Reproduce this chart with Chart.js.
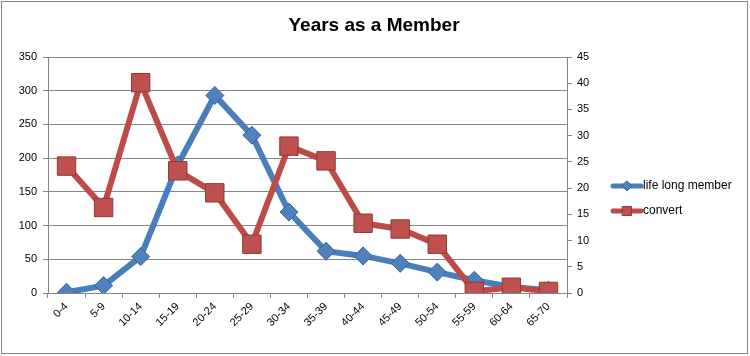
<!DOCTYPE html>
<html>
<head>
<meta charset="utf-8">
<script src="https://cdn.jsdelivr.net/npm/chart.js@4.4.1/dist/chart.umd.min.js"></script>
<style>
html,body{margin:0;padding:0;background:#fff;}
#wrap{position:relative;width:750px;height:356px;}
</style>
</head>
<body>
<div id="wrap"><canvas id="c" width="750" height="356"></canvas></div>
<script>
const categories = ["0-4","5-9","10-14","15-19","20-24","25-29","30-34","35-39","40-44","45-49","50-54","55-59","60-64","65-70"];
const lifeLong = [1, 11, 54, 190, 293, 234, 120, 62, 55, 44, 31, 19, 9, 4];
const convert = [24.2, 16.3, 40.1, 23.3, 19.1, 9.3, 28.0, 25.2, 13.3, 12.2, 9.3, 0.3, 1.1, 0.3];
const leftTicks = [0, 350, 50];
const rightTicks = [0, 45, 5];
const titleText = "Years as a Member";
const seriesNames = ["life long member", "convert"];

const BLUE = '#4A7EBB', BLUE_PT = '#4F81BD', BLUE_BD = '#3A6496';
const RED = '#BE4B48', RED_PT = '#C0504D', RED_BD = '#8C3836';
const GRID = '#868686';
const FONT = "'Liberation Sans', Arial, sans-serif";

const deco = {
  id: 'deco',
  beforeDraw(chart) {
    const ctx = chart.ctx;
    ctx.save();
    ctx.fillStyle = '#fff';
    ctx.fillRect(0, 0, chart.width, chart.height);
    ctx.restore();
  },
  afterDraw(chart) {
    const ctx = chart.ctx;
    ctx.save();
    ctx.strokeStyle = GRID;
    ctx.lineWidth = 1;
    ctx.strokeRect(1.5, 1.5, 746, 352);
    ctx.fillStyle = '#000';
    ctx.font = "bold 19px " + FONT;
    ctx.textAlign = 'center';
    ctx.textBaseline = 'alphabetic';
    ctx.fillText(titleText, 374, 31);
    const items = [
      {name: seriesNames[0], y: 186, line: BLUE, fill: BLUE_PT, bd: BLUE_BD, shape: 'diamond'},
      {name: seriesNames[1], y: 211, line: RED, fill: RED_PT, bd: RED_BD, shape: 'square'}
    ];
    items.forEach(it => {
      ctx.strokeStyle = it.line;
      ctx.lineWidth = 5;
      ctx.lineCap = 'round';
      ctx.beginPath();
      ctx.moveTo(613, it.y);
      ctx.lineTo(641, it.y);
      ctx.stroke();
      ctx.fillStyle = it.fill;
      ctx.strokeStyle = it.bd;
      ctx.lineWidth = 1;
      ctx.beginPath();
      if (it.shape === 'diamond') {
        ctx.moveTo(627, it.y - 5); ctx.lineTo(632, it.y); ctx.lineTo(627, it.y + 5); ctx.lineTo(622, it.y); ctx.closePath();
      } else {
        ctx.rect(622.5, it.y - 4.5, 9, 9);
      }
      ctx.fill(); ctx.stroke();
      ctx.fillStyle = '#000';
      ctx.font = "12px " + FONT;
      ctx.textAlign = 'left';
      ctx.textBaseline = 'middle';
      ctx.fillText(it.name, 643, it.y);
    });
    ctx.restore();
  }
};

new Chart(document.getElementById('c'), {
  type: 'line',
  data: {
    labels: categories,
    datasets: [
      {
        label: seriesNames[0],
        data: lifeLong,
        yAxisID: 'y',
        borderColor: BLUE,
        borderWidth: 6,
        backgroundColor: BLUE_PT,
        pointBackgroundColor: BLUE_PT,
        pointBorderColor: BLUE_BD,
        pointBorderWidth: 1,
        pointStyle: 'rectRot',
        pointRadius: 9,
        tension: 0,
        order: 1
      },
      {
        label: seriesNames[1],
        data: convert,
        yAxisID: 'y1',
        borderColor: RED,
        borderWidth: 6,
        backgroundColor: RED_PT,
        pointBackgroundColor: RED_PT,
        pointBorderColor: RED_BD,
        pointBorderWidth: 1,
        pointStyle: 'rect',
        pointRadius: 13,
        tension: 0,
        order: 0
      }
    ]
  },
  options: {
    responsive: false,
    animation: false,
    devicePixelRatio: 1,
    layout: { padding: { top: 57, left: 0, right: 153, bottom: 0 } },
    plugins: {
      legend: { display: false },
      title: { display: false },
      tooltip: { enabled: false }
    },
    scales: {
      x: {
        type: 'category',
        offset: true,
        grid: { display: true, drawOnChartArea: false, drawTicks: true, tickLength: 5, offset: true, color: GRID },
        border: { display: true, color: GRID },
        ticks: { color: '#000', font: { family: FONT, size: 11 }, minRotation: 45, maxRotation: 45, autoSkip: false, padding: 2 },
        afterFit(s) { s.height = 63; }
      },
      y: {
        position: 'left',
        min: leftTicks[0], max: leftTicks[1],
        ticks: { stepSize: leftTicks[2], color: '#000', font: { family: FONT, size: 11 }, padding: 6 },
        grid: { color: GRID, tickLength: 5 },
        border: { display: true, color: GRID },
        afterFit(s) { s.width = 48; }
      },
      y1: {
        position: 'right',
        min: rightTicks[0], max: rightTicks[1],
        ticks: { stepSize: rightTicks[2], color: '#000', font: { family: FONT, size: 11 }, padding: 5 },
        grid: { drawOnChartArea: false, color: GRID, tickLength: 5 },
        border: { display: true, color: GRID },
        afterFit(s) { s.width = 30; }
      }
    }
  },
  plugins: [deco]
});
</script>
</body>
</html>
